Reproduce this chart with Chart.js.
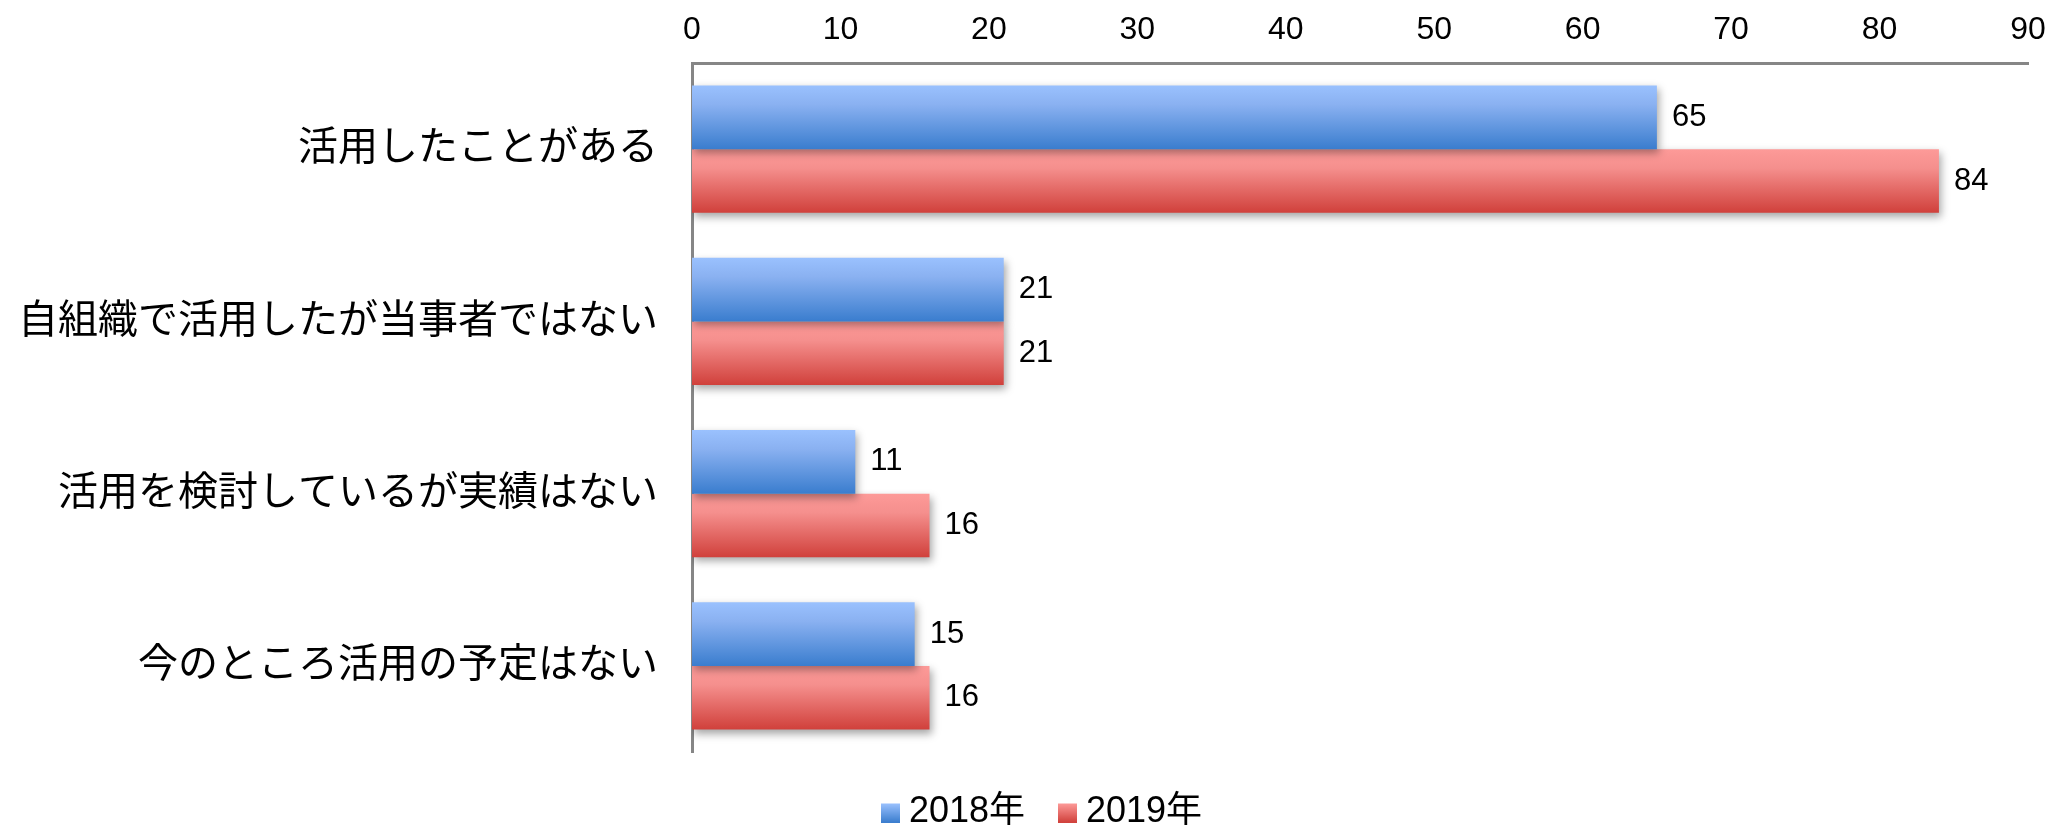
<!DOCTYPE html>
<html lang="ja">
<head>
<meta charset="utf-8">
<title>活用状況</title>
<script src="https://cdn.jsdelivr.net/npm/chart.js@4/dist/chart.umd.min.js"></script>
<style>
  html, body { margin: 0; padding: 0; background: #ffffff; }
  #wrap { width: 2049px; height: 828px; position: relative; }
</style>
</head>
<body>
<div id="wrap"><canvas id="chart"></canvas></div>
<script>
// Categories, series and axis ticks
const categories = [
  '活用したことがある',
  '自組織で活用したが当事者ではない',
  '活用を検討しているが実績はない',
  '今のところ活用の予定はない'
];
const seriesNames = ['2018年', '2019年'];
const values2018 = [65, 21, 11, 15];
const values2019 = [84, 21, 16, 16];
const xTickValues = [0, 10, 20, 30, 40, 50, 60, 70, 80, 90];

// Bar styling
const CAT_PCT = 0.74;
const palettes = [
  { light: '#9AC1FE', mid: '#8AB1F1', dark: '#3A7DCE' },
  { light: '#FD9A98', mid: '#F58F8D', dark: '#D0403B' }
];
const NUM_FONT = "'Liberation Sans', Arial, sans-serif";
const JP_FONT = "'Noto Sans CJK JP', 'Noto Sans', sans-serif";

// Vertical gradient spanning one bar
function barFill(context) {
  const p = palettes[context.datasetIndex];
  const chart = context.chart;
  const y = chart.scales && chart.scales.y;
  if (context.type !== 'data' || !y || !chart.chartArea) return p.dark;
  const step = (y.bottom - y.top) / categories.length;
  const size = step * CAT_PCT / 2;
  const center = y.getPixelForValue(context.dataIndex);
  const top = context.datasetIndex === 0 ? center - size : center;
  const g = chart.ctx.createLinearGradient(0, top, 0, top + size);
  g.addColorStop(0, p.light);
  g.addColorStop(0.3, p.mid);
  g.addColorStop(1, p.dark);
  return g;
}

// Small gradient squares used as legend markers
function swatch(p) {
  const c = document.createElement('canvas');
  c.width = 19; c.height = 21;
  const x = c.getContext('2d');
  const g = x.createLinearGradient(0, 2, 0, 21);
  g.addColorStop(0, p.light);
  g.addColorStop(1, p.dark);
  x.fillStyle = g;
  x.fillRect(0, 2, 19, 19);
  return c;
}
const swatches = palettes.map(swatch);

// Soft drop shadow under the bars
const barShadow = {
  id: 'barShadow',
  beforeDatasetsDraw(chart) {
    const ctx = chart.ctx;
    ctx.save();
    ctx.shadowColor = 'rgba(0,0,0,0.35)';
    ctx.shadowBlur = 8;
    ctx.shadowOffsetX = 2;
    ctx.shadowOffsetY = 4;
  },
  afterDatasetsDraw(chart) {
    chart.ctx.restore();
  }
};

// Value labels at the end of each bar
const valueLabels = {
  id: 'valueLabels',
  afterDraw(chart) {
    const ctx = chart.ctx;
    ctx.save();
    ctx.font = '31px ' + NUM_FONT;
    ctx.fillStyle = '#000000';
    ctx.textAlign = 'left';
    ctx.textBaseline = 'middle';
    chart.data.datasets.forEach((ds, di) => {
      const meta = chart.getDatasetMeta(di);
      meta.data.forEach((bar, i) => {
        ctx.fillText(String(ds.data[i]), bar.x + 15, bar.y);
      });
    });
    ctx.restore();
  }
};

// Let the category labels use the full width left of the plot
const wideLabels = {
  id: 'wideLabels',
  afterLayout(chart) {
    chart.scales.y.left = 0;
  }
};

const PAD_LEFT = 64;

new Chart(document.getElementById('chart'), {
  type: 'bar',
  data: {
    labels: categories,
    datasets: [
      { label: seriesNames[0], data: values2018, backgroundColor: barFill, borderWidth: 0 },
      { label: seriesNames[1], data: values2019, backgroundColor: barFill, borderWidth: 0 }
    ]
  },
  options: {
    indexAxis: 'y',
    responsive: true,
    maintainAspectRatio: false,
    animation: false,
    devicePixelRatio: 1,
    categoryPercentage: CAT_PCT,
    barPercentage: 1.0,
    layout: { padding: { left: PAD_LEFT, right: 21, top: 0, bottom: 0 } },
    scales: {
      x: {
        position: 'top',
        min: 0,
        max: 90,
        afterBuildTicks(scale) {
          scale.ticks = xTickValues.map(v => ({ value: v }));
        },
        afterFit(scale) {
          scale.height = 63;
          scale.paddingLeft = 0;
          scale.paddingRight = 0;
        },
        grid: { display: false, drawTicks: false },
        border: { display: true, color: '#868686', width: 3 },
        ticks: {
          padding: 14,
          color: '#000000',
          font: { family: NUM_FONT, size: 32 },
          maxRotation: 0
        }
      },
      y: {
        afterFit(scale) { scale.width = 692 - PAD_LEFT; },
        grid: { display: false, drawTicks: false },
        border: { display: true, color: '#868686', width: 3 },
        ticks: {
          padding: 34,
          color: '#000000',
          labelOffset: -4,
          font: { family: JP_FONT, size: 40 }
        }
      }
    },
    plugins: {
      tooltip: { enabled: false },
      legend: {
        position: 'bottom',
        maxHeight: 76,
        labels: {
          color: '#000000',
          font: { family: "'Liberation Sans', 'Noto Sans CJK JP', sans-serif", size: 36 },
          usePointStyle: true,
          pointStyleWidth: 1,
          boxHeight: 19,
          padding: 42,
          generateLabels(chart) {
            const items = Chart.defaults.plugins.legend.labels.generateLabels(chart);
            items.forEach((it, i) => {
              it.pointStyle = swatches[i];
              it.fillStyle = palettes[i].dark;
              it.lineWidth = 0;
            });
            return items;
          }
        }
      }
    }
  },
  plugins: [barShadow, valueLabels, wideLabels]
});
</script>
</body>
</html>
